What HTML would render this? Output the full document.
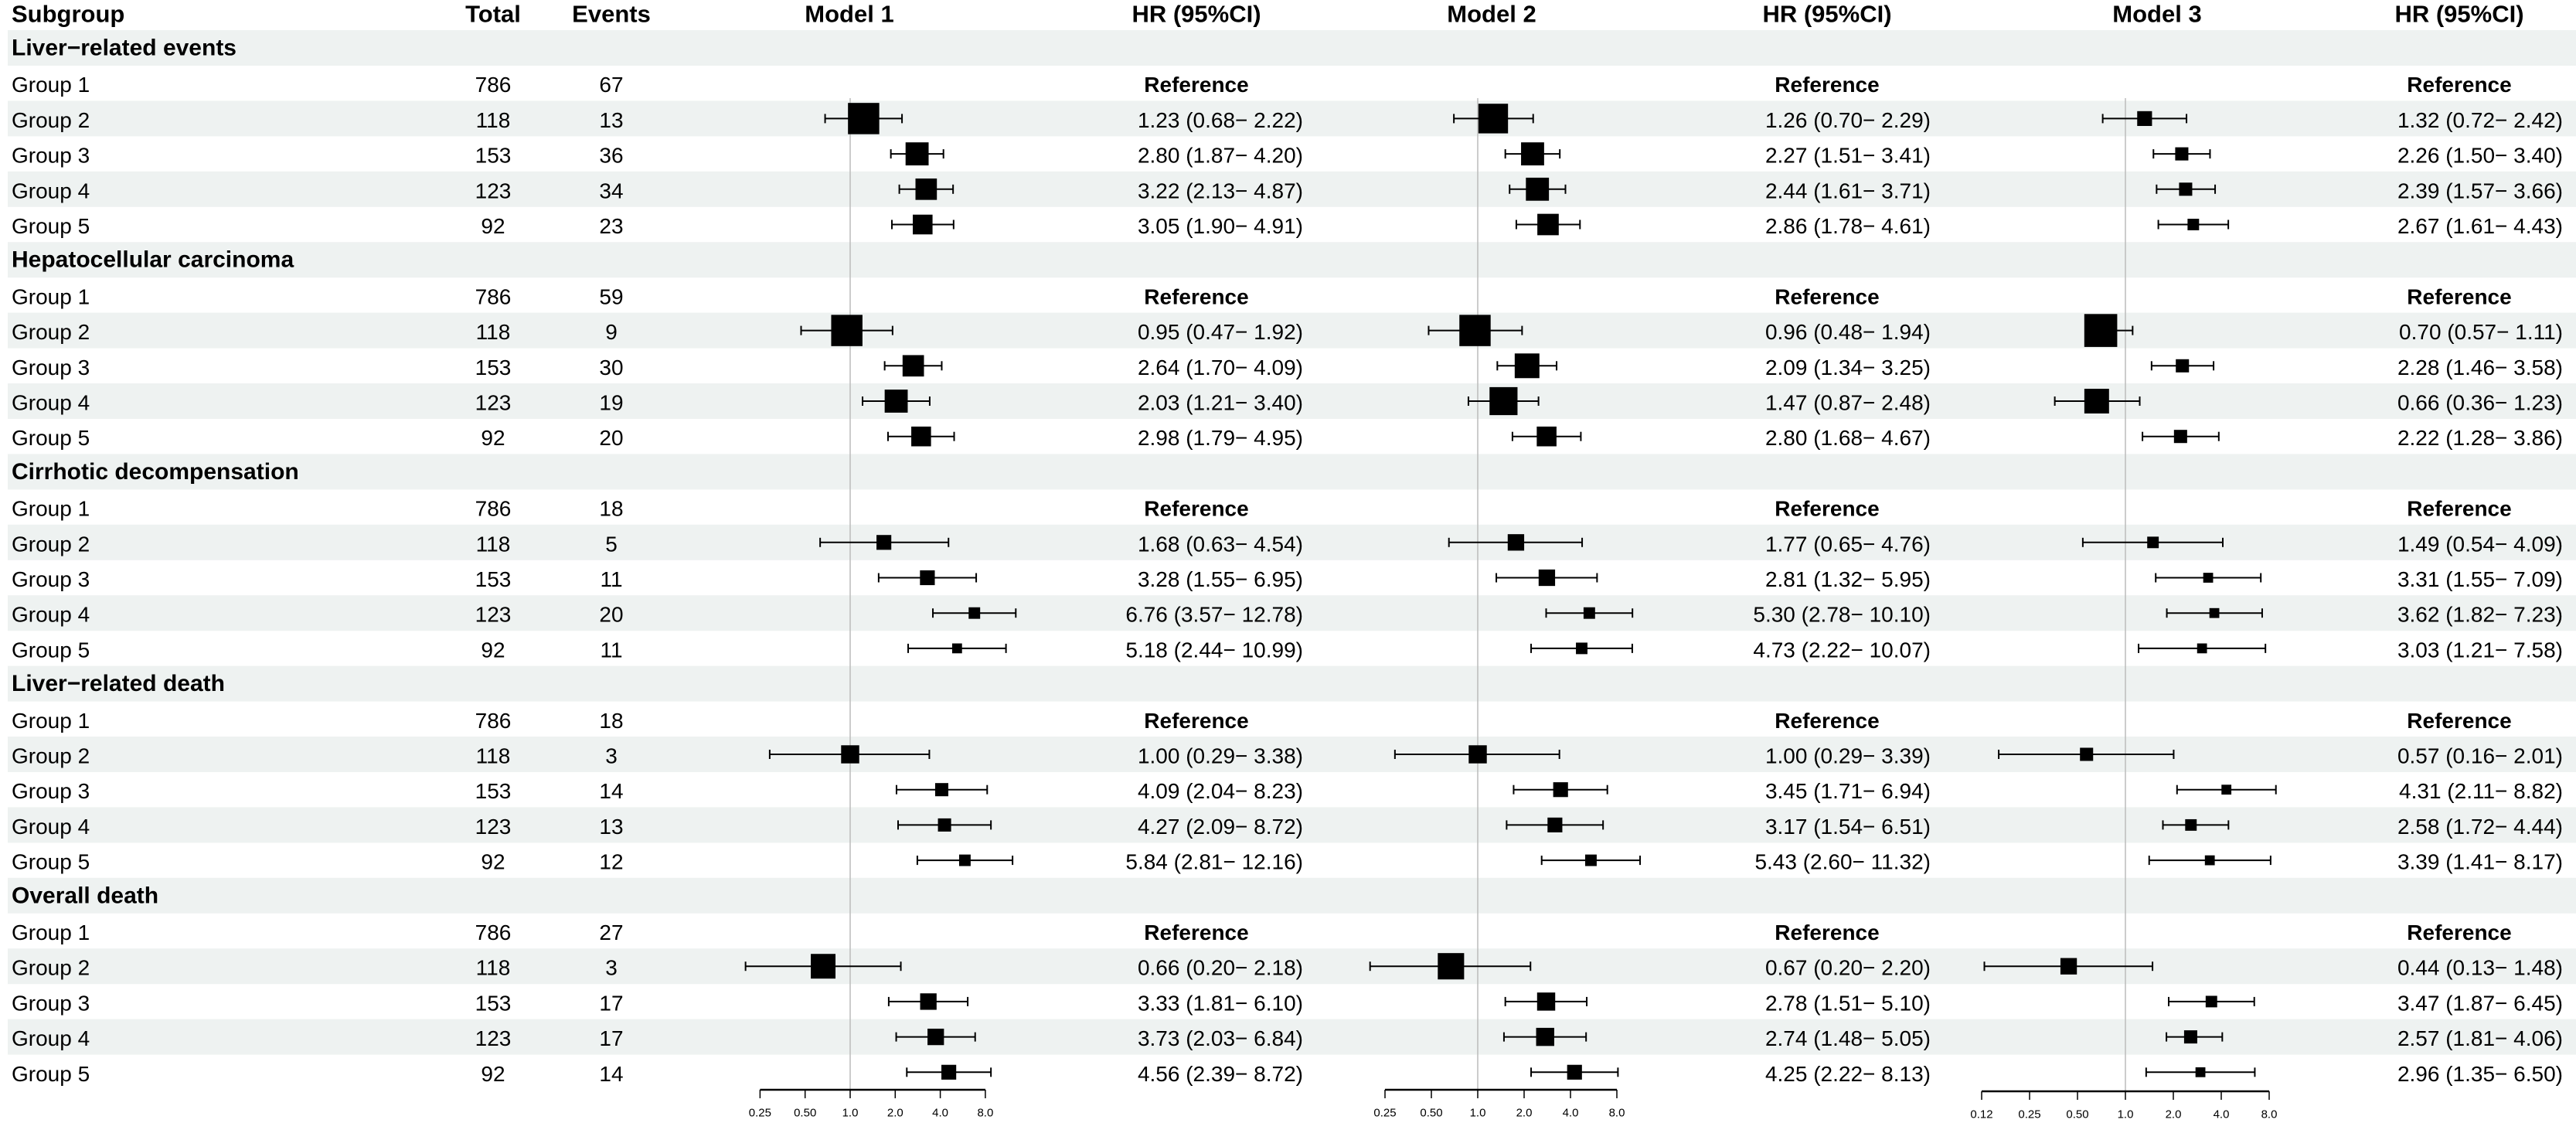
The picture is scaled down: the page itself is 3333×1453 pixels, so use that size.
<!DOCTYPE html>
<html><head><meta charset="utf-8"><style>
html,body{margin:0;padding:0;background:#fff}
svg{display:block}
text{font-family:"Liberation Sans",Arial,sans-serif;fill:#000}
</style></head><body>
<svg id="c" width="3333" height="1453" viewBox="0 0 3333 1453" xmlns="http://www.w3.org/2000/svg"></svg>
<script>
const sections=["Liver−related events","Hepatocellular carcinoma","Cirrhotic decompensation","Liver−related death","Overall death"];
const groups=["Group 1","Group 2","Group 3","Group 4","Group 5"];
const totals=[786,118,153,123,92];
const events=[[67,13,36,34,23],[59,9,30,19,20],[18,5,11,20,11],[18,3,14,13,12],[27,3,17,17,14]];
const m1hr=[1.23,2.80,3.22,3.05, 0.95,2.64,2.03,2.98, 1.68,3.28,6.76,5.18, 1.00,4.09,4.27,5.84, 0.66,3.33,3.73,4.56];
const m1lo=[0.68,1.87,2.13,1.90, 0.47,1.70,1.21,1.79, 0.63,1.55,3.57,2.44, 0.29,2.04,2.09,2.81, 0.20,1.81,2.03,2.39];
const m1hi=[2.22,4.20,4.87,4.91, 1.92,4.09,3.40,4.95, 4.54,6.95,12.78,10.99, 3.38,8.23,8.72,12.16, 2.18,6.10,6.84,8.72];
const m2hr=[1.26,2.27,2.44,2.86, 0.96,2.09,1.47,2.80, 1.77,2.81,5.30,4.73, 1.00,3.45,3.17,5.43, 0.67,2.78,2.74,4.25];
const m2lo=[0.70,1.51,1.61,1.78, 0.48,1.34,0.87,1.68, 0.65,1.32,2.78,2.22, 0.29,1.71,1.54,2.60, 0.20,1.51,1.48,2.22];
const m2hi=[2.29,3.41,3.71,4.61, 1.94,3.25,2.48,4.67, 4.76,5.95,10.10,10.07, 3.39,6.94,6.51,11.32, 2.20,5.10,5.05,8.13];
const m3hr=[1.32,2.26,2.39,2.67, 0.70,2.28,0.66,2.22, 1.49,3.31,3.62,3.03, 0.57,4.31,2.58,3.39, 0.44,3.47,2.57,2.96];
const m3lo=[0.72,1.50,1.57,1.61, 0.57,1.46,0.36,1.28, 0.54,1.55,1.82,1.21, 0.16,2.11,1.72,1.41, 0.13,1.87,1.81,1.35];
const m3hi=[2.42,3.40,3.66,4.43, 1.11,3.58,1.23,3.86, 4.09,7.09,7.23,7.58, 2.01,8.82,4.44,8.17, 1.48,6.45,4.06,6.50];
const m1w=[19,14,13,12, 19,13,14,12, 9,9,7,6, 11,8,8,7, 15,10,10,9];
const m2w=[18,14,14,13, 19,15,17,12, 10,10,7,7, 11,9,9,7, 16,11,11,9];
const m3w=[9,8,8,7, 20,8,15,8, 7,6,6,6, 8,6,7,6, 10,7,8,6];
const ticks12=["0.25","0.50","1.0","2.0","4.0","8.0"];
const ticks3=["0.12","0.25","0.50","1.0","2.0","4.0","8.0"];

const NS="http://www.w3.org/2000/svg";
const svg=document.getElementById('c');
function mk(tag,attrs,parent){const e=document.createElementNS(NS,tag);for(const k in attrs)e.setAttribute(k,attrs[k]);(parent||svg).appendChild(e);return e;}
function txt(s,x,y,anchor,size,bold,parent){const t=mk('text',{x:x,y:y,'text-anchor':anchor,'font-size':size,'font-weight':bold?'bold':'normal','dominant-baseline':'central'},parent);t.textContent=s;return t;}
const rowH=45.7, row1=62;
function rowY(k){return row1+(k-1)*rowH;}
const models=[
 {hr:m1hr,lo:m1lo,hi:m1hi,w:m1w,x1:1100,unit:58.3,min:0.25,ticks:ticks12,head:1099,hrHead:1548,right:1686},
 {hr:m2hr,lo:m2lo,hi:m2hi,w:m2w,x1:1912,unit:60,min:0.25,ticks:ticks12,head:1930,hrHead:2364,right:2498},
 {hr:m3hr,lo:m3lo,hi:m3hi,w:m3w,x1:2750,unit:62,min:0.125,ticks:ticks3,head:2791,hrHead:3182,right:3316}
];
function xs(m,v){return m.x1+Math.log2(v)*m.unit;}

// bands
for(let k=1;k<=30;k++){
  const inSec=(k-1)%6;
  if(inSec===0||inSec===2||inSec===4){
    const b=mk('rect',{x:10,y:rowY(k)-23,width:3323,height:46,fill:'#eef2f1'});
    
    
  }
}
// header
const hdr=mk('g',{});


txt("Subgroup",15,18,'start',31,true,hdr);
txt("Total",638,18,'middle',31,true,hdr);
txt("Events",791,18,'middle',31,true,hdr);
models.forEach((m,i)=>{txt("Model "+(i+1),m.head,18,'middle',31,true,hdr);txt("HR (95%CI)",m.hrHead,18,'middle',31,true,hdr);});

// reference lines
models.forEach(m=>{
  const l=mk('line',{x1:xs(m,1),x2:xs(m,1),y1:127,y2:1412,stroke:'#bbb','stroke-width':1.5});
  
  
});

const fmt=v=>v.toFixed(2);
sections.forEach((s,si)=>{
  const k0=1+si*6;
  const g=mk('g',{});
  
  
  txt(s,15,rowY(k0),'start',30,true,g);
  groups.forEach((gn,gi)=>{
    const y=rowY(k0+1+gi)+2;
    txt(gn,15,y,'start',28,false,g);
    txt(String(totals[gi]),638,y,'middle',28,false,g);
    txt(String(events[si][gi]),791,y,'middle',28,false,g);
    models.forEach(m=>{
      if(gi===0){txt("Reference",m.hrHead,y,'middle',28,true,g);return;}
      const idx=si*4+gi-1;
      txt(fmt(m.hr[idx])+" ("+fmt(m.lo[idx])+"− "+fmt(m.hi[idx])+")",m.right,y,'end',28,false,g);
      const yy=y-2;
      const xl=xs(m,m.lo[idx]), xh=xs(m,m.hi[idx]), xc=xs(m,m.hr[idx]);
      const ci=mk('line',{x1:xl,x2:xh,y1:yy,y2:yy,stroke:'#000','stroke-width':2},g);
      
      
      [xl,xh].forEach(xx=>{const c=mk('line',{x1:xx,x2:xx,y1:yy-6,y2:yy+6,stroke:'#000','stroke-width':2},g);
        
        });
      const w=m.w[idx]*2.13;
      const sq=mk('rect',{x:xc-w/2,y:yy-w/2,width:w,height:w,fill:'#000'},g);
      
      
    });
  });
});

// axes
models.forEach((m,i)=>{
  const g=mk('g',{});
  
  
  const ay=1410+(i===2?2:0);
  const x0=xs(m,m.min), x8=xs(m,8);
  mk('line',{x1:x0,x2:x8,y1:ay,y2:ay,stroke:'#000','stroke-width':2.5},g);
  m.ticks.forEach((t,ti)=>{
    const v=m.min*Math.pow(2,ti);
    const x=xs(m,v);
    mk('line',{x1:x,x2:x,y1:ay,y2:ay+11,stroke:'#000','stroke-width':1.5},g);
    txt(t,x,ay+30,'middle',15,false,g);
  });
});
</script>
</body></html>
